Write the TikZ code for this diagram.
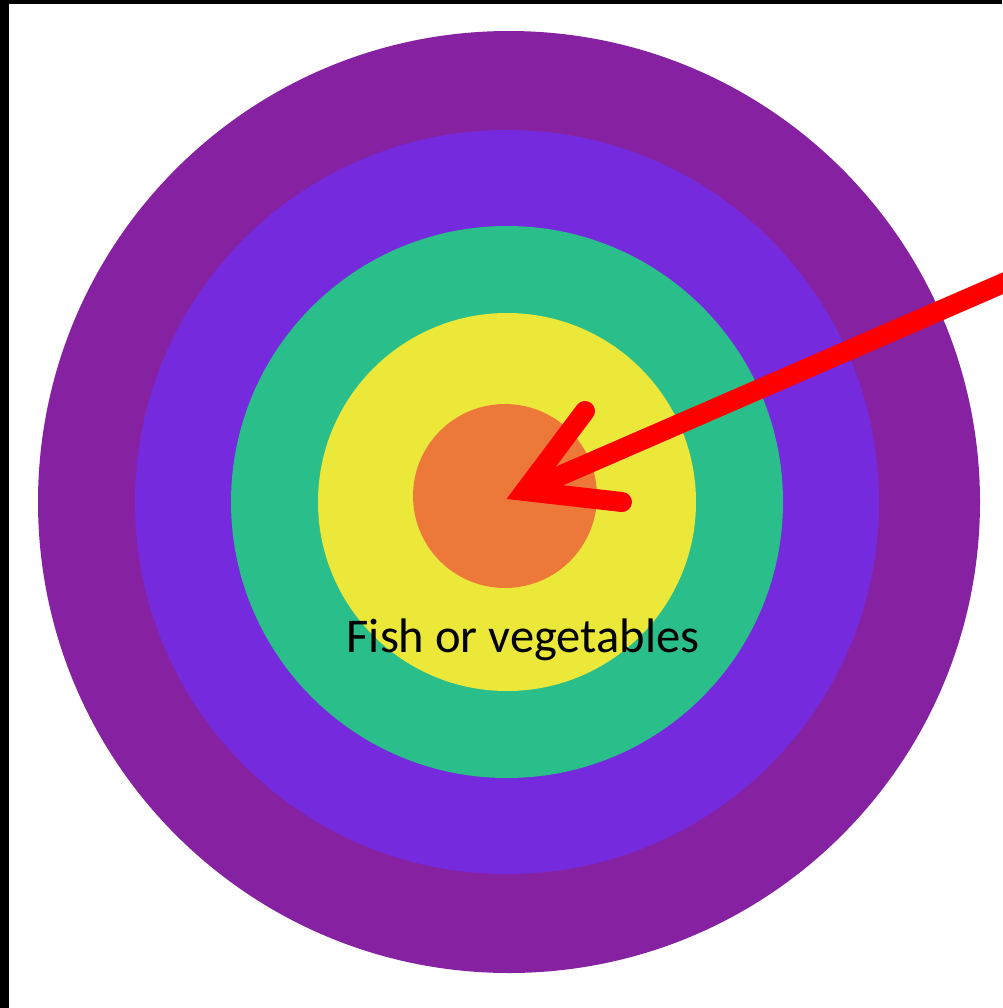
\documentclass[tikz,border=0pt]{standalone}
\usepackage{fontspec}
\setmainfont{Carlito}
\usepackage{xcolor}
\usetikzlibrary{math}
\definecolor{myouter}{RGB}{134, 34, 162}
\definecolor{myviolet}{RGB}{118, 42, 221}
\definecolor{mygreen}{RGB}{42, 191, 138}
\definecolor{myyellow}{RGB}{236, 232, 58}
\definecolor{myorange}{RGB}{236, 120, 58}
\definecolor{myred}{RGB}{255, 0, 0}

\begin{document}
\begin{tikzpicture}[x=0.02cm, y=-0.02cm,
  ring/.style={fill=#1, draw=none},
  pointer/.style={line width=0.4cm, color=myred, line cap=round}]
\tikzmath{
\cx=509;
\cy=502;
}
\useasboundingbox (0,0) rectangle (1002,1008);
\fill[white] (0,0) rectangle (1002,1008);
\fill[black] (0,0) rectangle (1002,4);
\fill[black] (0,0) rectangle (9,1008);

\fill[ring=myouter] (\cx,\cy) circle (471);
\fill[ring=myviolet] (\cx-2,\cy) circle (372);
\fill[ring=mygreen] (\cx-2,\cy) circle (276);
\fill[ring=myyellow] (\cx-2,\cy) circle (189);
\node[circle, fill=myorange, minimum size=3.68cm, inner sep=0pt] (bull) at (505,496) {};

\node[anchor=base, font=\fontsize{27.6}{33}\selectfont] (label) at (523,652) {Fish or vegetables};

\coordinate (tail) at (1015,278);
\coordinate (tip) at (525,491);
\draw[pointer] (tail) -- (tip);
\draw[pointer, line join=miter] (585,411) -- (tip) -- (622,502);

\end{tikzpicture}
\end{document}
